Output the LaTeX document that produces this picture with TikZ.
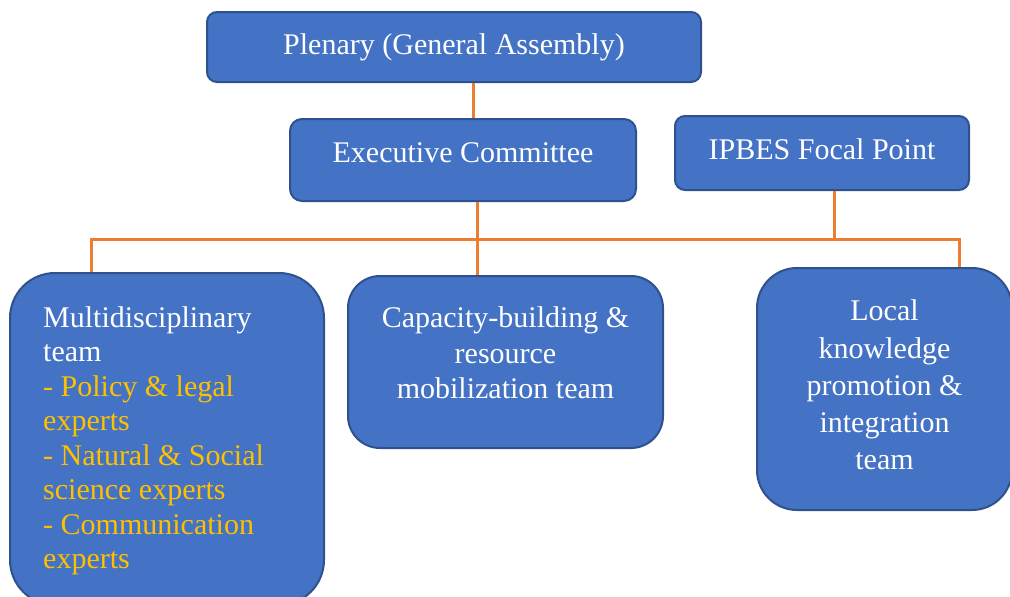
\documentclass[tikz,border=0pt]{standalone}
\usepackage{fontspec}
\setmainfont{Liberation Serif}
\usetikzlibrary{positioning,calc}
\definecolor{boxblue}{HTML}{4472C4}
\definecolor{boxedge}{HTML}{2F528F}
\definecolor{linkorange}{HTML}{ED7D31}
\definecolor{listgold}{HTML}{FFC000}
\tikzset{
  unit/.style={draw=boxedge, fill=boxblue, line width=2pt, inner sep=0pt},
  unittext/.style={text=white, inner sep=0pt, font=\fontsize{30}{34.5}\selectfont},
  link/.style={draw=linkorange, line width=3pt},
}

\begin{document}
\begin{tikzpicture}[x=1pt,y=-1pt]
  \useasboundingbox (0,0) rectangle (1010,597);
  \clip (0,0) rectangle (1010,597);
  % boxes
  \node[unit, rounded corners=10pt, minimum width=494pt, minimum height=70pt] (plenary) at (454,47) {};
  \node[unit, rounded corners=12pt, minimum width=346pt, minimum height=82pt] (exec) at (463,160) {};
  \node[unit, rounded corners=10pt, minimum width=294pt, minimum height=74pt] (ipbes) at (822,153) {};
  \node[unit, rounded corners=45pt, minimum width=314pt, minimum height=332pt] (multi) at (167,439) {};
  \node[unit, rounded corners=32pt, minimum width=315pt, minimum height=172pt] (capacity) at (505.5,362) {};
  \node[unit, rounded corners=40pt, minimum width=255pt, minimum height=242pt] (local) at (884.5,389) {};
  % texts
  \node[unittext] (plenarytxt) at (plenary.center) {Plenary (General Assembly)};
  \node[unittext] (exectxt) at ([yshift=7pt]exec.center) {Executive Committee};
  \node[unittext] (ipbestxt) at ([yshift=4pt]ipbes.center) {IPBES Focal Point};
  \node[unittext, align=left, anchor=west] (multitxt) at ([xshift=34pt,yshift=-2pt]multi.west)
    {Multidisciplinary\\team\\\textcolor{listgold}{- Policy \& legal}\\\textcolor{listgold}{experts}\\
     \textcolor{listgold}{- Natural \& Social}\\\textcolor{listgold}{science experts}\\
     \textcolor{listgold}{- Communication}\\\textcolor{listgold}{experts}};
  \node[unittext, align=center, font=\fontsize{30}{35.5}\selectfont] (capacitytxt) at ([yshift=9pt]capacity.center)
    {Capacity-building \&\\resource\\mobilization team};
  \node[unittext, align=center, font=\fontsize{30}{37.2}\selectfont] (localtxt) at ([yshift=4pt]local.center)
    {Local\\knowledge\\promotion \&\\integration\\team};
  % connectors
  \coordinate (busL) at (91,239);
  \coordinate (busR) at (959,239);
  \coordinate (pldrop) at ([xshift=19pt]plenary.south);
  \coordinate (ecdrop) at ([xshift=14pt]exec.south);
  \coordinate (ipdrop) at ([xshift=12pt]ipbes.south);
  \draw[link] (pldrop) -- (pldrop |- exec.north);
  \draw[link] (ecdrop) -- (ecdrop |- capacity.north);
  \draw[link] (ipdrop) -- (ipdrop |- busR);
  \draw[link] (busL |- multi.north) -- (busL) -- (busR) -- (busR |- local.north);
\end{tikzpicture}
\end{document}
